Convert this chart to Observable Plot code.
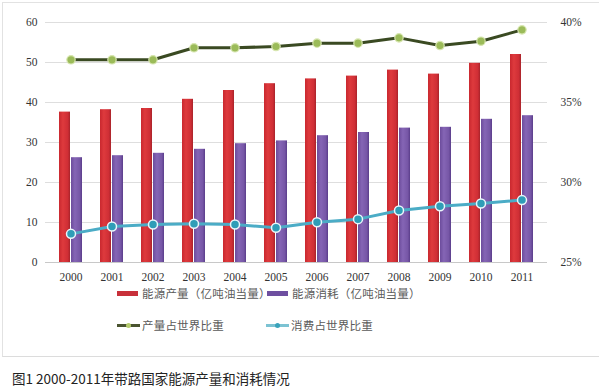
<!DOCTYPE html>
<html><head><meta charset="utf-8">
<script src="https://cdn.jsdelivr.net/npm/d3@7"></script>
<script src="https://cdn.jsdelivr.net/npm/@observablehq/plot@0.6"></script>
<style>
body{margin:0;background:#fff;width:600px;height:391px;position:relative;overflow:hidden;font-family:"Noto Sans CJK SC","Noto Sans",sans-serif;}
#frame{position:absolute;left:2px;top:2px;width:597px;height:355px;border-left:1px solid #e2e2e2;border-top:1px solid #e2e2e2;border-bottom:1px solid #dcdcdc;box-sizing:border-box;}
#chart{position:absolute;left:0;top:0;}
.leg{position:absolute;font-size:11.5px;color:#5a5a5a;white-space:nowrap;line-height:14px;letter-spacing:0.2px;}
.sw{position:absolute;}
#caption{position:absolute;left:12px;top:368px;font-size:13.5px;color:#222;white-space:nowrap;}
</style></head>
<body>
<svg width="0" height="0" style="position:absolute">
  <defs>
    <linearGradient id="gRed" x1="0" x2="1" y1="0" y2="0">
      <stop offset="0" stop-color="#c9282f"/>
      <stop offset="0.35" stop-color="#de3a3d"/>
      <stop offset="0.8" stop-color="#cf2e35"/>
      <stop offset="1" stop-color="#a8232a"/>
    </linearGradient>
    <linearGradient id="gPur" x1="0" x2="1" y1="0" y2="0">
      <stop offset="0" stop-color="#6c4c9c"/>
      <stop offset="0.35" stop-color="#8565b5"/>
      <stop offset="0.8" stop-color="#7656a6"/>
      <stop offset="1" stop-color="#5a3d8a"/>
    </linearGradient>
  </defs>
</svg>
<div id="frame"></div>
<div id="chart"></div>
<div id="legend"></div>
<div id="caption">图1 2000-2011年带路国家能源产量和消耗情况</div>
<script>
const years = ["2000","2001","2002","2003","2004","2005","2006","2007","2008","2009","2010","2011"];
const production = [37.6,38.2,38.5,40.8,43.0,44.7,45.9,46.6,48.1,47.1,49.8,52.0];
const consumption = [26.2,26.7,27.3,28.3,29.7,30.4,31.7,32.5,33.6,33.8,35.8,36.7];
const prodShare = [37.67,37.67,37.67,38.42,38.42,38.5,38.71,38.71,39.04,38.56,38.83,39.54];
const consShare = [26.79,27.25,27.38,27.42,27.38,27.17,27.52,27.71,28.25,28.52,28.69,28.9];
const leftTicks = [0,10,20,30,40,50,60];
const rightTicks = [25,30,35,40];
const seriesNames = ["能源产量（亿吨油当量）","能源消耗（亿吨油当量）","产量占世界比重","消费占世界比重"];

// map right-axis percent onto left scale domain [0,60]
const toLeft = p => (p - 25) * 4;

const rows = years.map((y,i)=>({year:y, prod:production[i], cons:consumption[i], ps:toLeft(prodShare[i]), cs:toLeft(consShare[i])}));

const plot = Plot.plot({
  width:600, height:285,
  marginLeft:45, marginRight:53, marginTop:22, marginBottom:23,
  style:{background:"transparent", fontFamily:"'Liberation Serif',serif", fontSize:"11.5px", color:"#333"},
  x:{domain:years, padding:0, label:null},
  y:{domain:[0,60], label:null},
  marks:[
    Plot.gridY(leftTicks,{stroke:"#dedede", strokeOpacity:1}),
    Plot.barY(rows,{x:"year", y:"prod", fill:"url(#gRed)", insetLeft:9, insetRight:21}),
    Plot.barY(rows,{x:"year", y:"cons", fill:"url(#gPur)", insetLeft:21, insetRight:9}),
    Plot.ruleY([0],{stroke:"#c8c8c8"}),
    Plot.line(rows,{x:"year", y:"ps", stroke:"#3a4a22", strokeWidth:3}),
    Plot.dot(rows,{x:"year", y:"ps", r:4.2, fill:"#9bbb59", stroke:"#d7e6b0", strokeWidth:1.2}),
    Plot.line(rows,{x:"year", y:"cs", stroke:"#4bacc6", strokeWidth:3}),
    Plot.dot(rows,{x:"year", y:"cs", r:4.5, fill:"#2f9db7", stroke:"#eaf6fa", strokeWidth:1.5}),
    Plot.axisY(leftTicks,{anchor:"left", tickSize:0, tickPadding:8, label:null}),
    Plot.axisY(rightTicks.map(toLeft),{anchor:"right", tickSize:0, tickPadding:13, textAnchor:"start", label:null, tickFormat:d=>(d/4+25)+"%"}),
    Plot.axisX({tickSize:0, tickPadding:10, label:null})
  ]
});
document.getElementById("chart").appendChild(plot);

// legend
const legend = document.getElementById("legend");
const items = [
  {x:117, y:293, type:"bar", color:"#c8303a", text:seriesNames[0]},
  {x:267, y:293, type:"bar", color:"#6e4fa0", text:seriesNames[1]},
  {x:117, y:325, type:"line", color:"#4a5430", dot:"#b5cc6e", text:seriesNames[2]},
  {x:266, y:325, type:"line", color:"#7cc3d3", dot:"#3aa3bb", text:seriesNames[3]}
];
for (const it of items){
  if (it.type==="bar"){
    const s=document.createElement("div"); s.className="sw";
    Object.assign(s.style,{left:it.x+"px", top:(it.y-2)+"px", width:"21px", height:"5px", background:it.color});
    legend.appendChild(s);
  } else {
    const s=document.createElement("div"); s.className="sw";
    Object.assign(s.style,{left:it.x+"px", top:(it.y-1)+"px", width:"23px", height:"3px", background:it.color});
    legend.appendChild(s);
    const d=document.createElement("div"); d.className="sw";
    Object.assign(d.style,{left:(it.x+9)+"px", top:(it.y-2.5)+"px", width:"5px", height:"5px", borderRadius:"50%", background:it.dot});
    legend.appendChild(d);
  }
  const t=document.createElement("div"); t.className="leg";
  t.style.left=(it.x+25)+"px"; t.style.top=(it.y-7)+"px"; t.textContent=it.text;
  legend.appendChild(t);
}
</script>
</body></html>
